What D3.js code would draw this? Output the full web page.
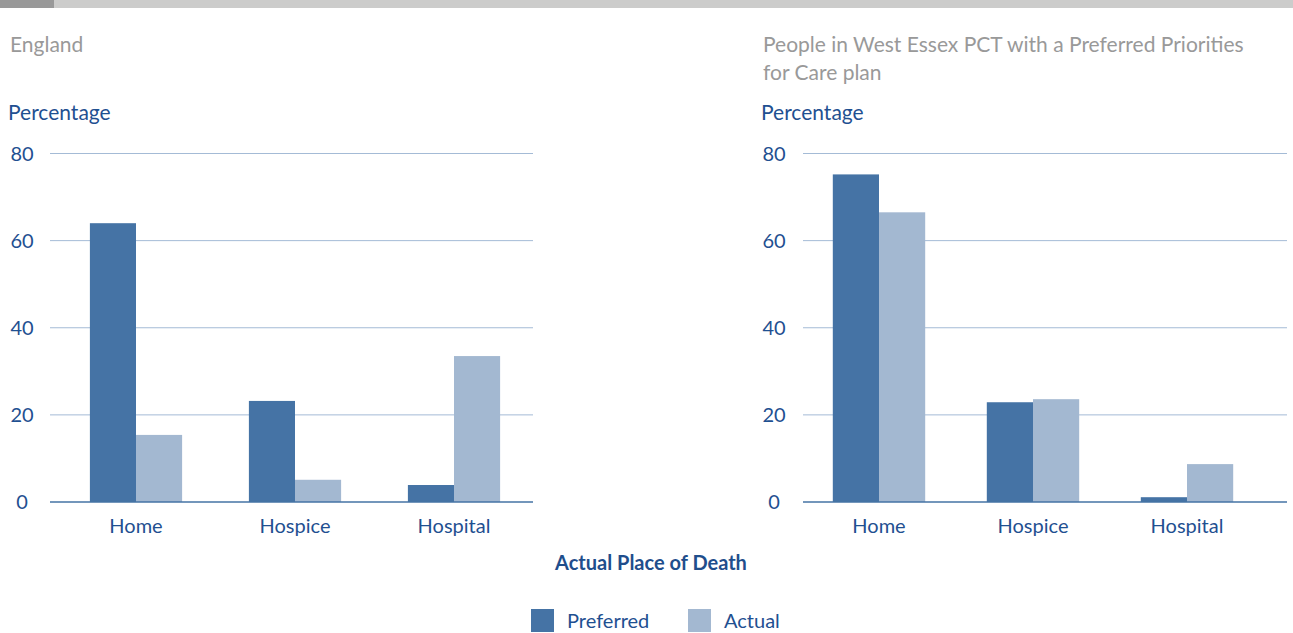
<!DOCTYPE html>
<html>
<head>
<meta charset="utf-8">
<script src="https://cdn.jsdelivr.net/npm/d3@7"></script>
<style>
  body { margin: 0; background: #fff; }
  svg text { font-family: "Lato", "Open Sans", sans-serif; }
</style>
</head>
<body>
<svg id="chart" width="1293" height="633"></svg>
<script>
// data
var categories = ["Home", "Hospice", "Hospital"];
var series = ["Preferred", "Actual"];
var englandPreferred = [64.0, 23.2, 3.9];
var englandActual = [15.4, 5.1, 33.5];
var essexPreferred = [75.2, 22.9, 1.1];
var essexActual = [66.5, 23.6, 8.7];
var yTicks = [0, 20, 40, 60, 80];

var color = d3.scaleOrdinal().domain(series).range(["#4573a5", "#a3b8d1"]);
var blue = "#1f5091";

var svg = d3.select("#chart");

// top strip
svg.append("rect").attr("x", 0).attr("y", 0).attr("width", 1293).attr("height", 8).attr("fill", "#cccccb");
svg.append("rect").attr("x", 0).attr("y", 0).attr("width", 54).attr("height", 8).attr("fill", "#999999");

var y = d3.scaleLinear().domain([0, 80]).range([502, 153.5]);

function drawPanel(opts) {
    var g = svg.append("g");

    opts.title.forEach(function(t, i) {
        g.append("text")
         .attr("x", opts.titleX).attr("y", 52 + i * 28)
         .attr("fill", "#999").style("font-size", "21px")
         .text(t);
    });

    g.append("text")
     .attr("x", opts.titleX - 2).attr("y", 120)
     .attr("fill", blue).style("font-size", "21px")
     .text("Percentage");

    // grid + tick labels
    g.selectAll(".grid").data(yTicks.filter(function(d) { return d > 0; }))
     .enter().append("line")
     .attr("x1", opts.gridStart).attr("x2", opts.gridEnd)
     .attr("y1", function(d) { return y(d); }).attr("y2", function(d) { return y(d); })
     .attr("stroke", "#a4bbd6").attr("stroke-width", 1);

    g.selectAll(".tick").data(yTicks)
     .enter().append("text")
     .attr("x", opts.tickX).attr("y", function(d) { return y(d) + 7; })
     .attr("text-anchor", "middle")
     .attr("fill", blue).style("font-size", "20px")
     .text(function(d) { return d; });

    var x0 = d3.scaleBand().domain(categories).range(opts.bandRange)
               .paddingInner(opts.pad).paddingOuter(opts.pad / 2);
    var x1 = d3.scaleBand().domain(series).range([0, x0.bandwidth()]);

    var rows = categories.map(function(c, i) {
        return { cat: c, Preferred: opts.preferred[i], Actual: opts.actual[i] };
    });

    var grp = g.selectAll(".grp").data(rows).enter().append("g")
               .attr("transform", function(d) { return "translate(" + x0(d.cat) + ",0)"; });

    grp.selectAll("rect")
       .data(function(d) { return series.map(function(s) { return { key: s, value: d[s] }; }); })
       .enter().append("rect")
       .attr("x", function(d) { return x1(d.key); })
       .attr("width", x1.bandwidth())
       .attr("y", function(d) { return y(d.value); })
       .attr("height", function(d) { return y(0) - y(d.value); })
       .attr("fill", function(d) { return color(d.key); });

    g.append("line")
     .attr("x1", opts.gridStart).attr("x2", opts.gridEnd)
     .attr("y1", y(0)).attr("y2", y(0))
     .attr("stroke", "#4573a5").attr("stroke-width", 1.6);

    g.selectAll(".cat").data(categories).enter().append("text")
     .attr("x", function(d) { return x0(d) + x0.bandwidth() / 2; })
     .attr("y", 533)
     .attr("text-anchor", "middle")
     .attr("fill", blue).style("font-size", "20px")
     .text(function(d) { return d; });
}

drawPanel({
    title: ["England"], titleX: 10, tickX: 22,
    gridStart: 50, gridEnd: 533, bandRange: [56.5, 533.5], pad: 0.42,
    preferred: englandPreferred, actual: englandActual
});

drawPanel({
    title: ["People in West Essex PCT with a Preferred Priorities", "for Care plan"],
    titleX: 763, tickX: 774,
    gridStart: 803, gridEnd: 1287, bandRange: [802, 1264], pad: 0.4,
    preferred: essexPreferred, actual: essexActual
});

svg.append("text")
   .attr("x", 651).attr("y", 570)
   .attr("text-anchor", "middle")
   .attr("fill", "#1f4e8c").style("font-size", "20px").style("font-weight", "bold")
   .text("Actual Place of Death");

// legend
var legend = svg.selectAll(".legend").data(series).enter().append("g")
    .attr("transform", function(d, i) { return "translate(" + (531 + i * 157) + ",609)"; });
legend.append("rect").attr("width", 23).attr("height", 23).attr("fill", function(d) { return color(d); });
legend.append("text").attr("x", 36).attr("y", 19)
      .attr("fill", blue).style("font-size", "20px")
      .text(function(d) { return d; });
</script>
</body>
</html>
